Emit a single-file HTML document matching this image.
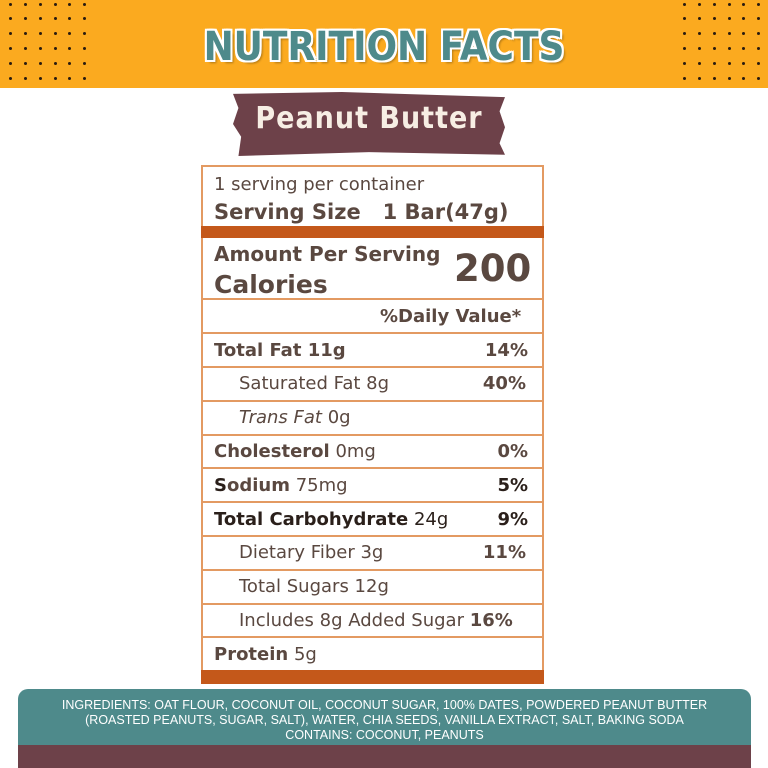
<!DOCTYPE html>
<html><head><meta charset="utf-8"><style>
*{margin:0;padding:0;box-sizing:border-box}
body{width:768px;height:768px;background:#fff;position:relative;overflow:hidden;font-family:"DejaVu Sans","Liberation Sans",sans-serif;color:#5a4840}
.hdr{position:absolute;left:0;top:0;width:768px;height:88px;background:#FBAA1F}
.dot{position:absolute;width:3px;height:3px;border-radius:50%;background:#2a1c10}
.title{position:absolute;left:0;width:768px;top:24px;text-align:center;font:bold 40px "DejaVu Sans Condensed","Liberation Sans Narrow",sans-serif;color:#4E8A8B;text-shadow:2px 0 #fff,-2px 0 #fff,0 2px #fff,0 -2px #fff,2px 2px #fff,-2px -2px #fff,2px -2px #fff,-2px 2px #fff,3px 3px 2px rgba(0,0,0,.3)}
.banner{position:absolute;left:233px;top:92px;width:272px;height:64px;background:#6D4149;clip-path:polygon(0 3%,40% 0,100% 8%,98% 30%,100% 55%,98% 80%,100% 98%,50% 94%,2% 100%,3% 70%,0 50%,2% 25%)}
.btxt{position:absolute;left:233px;top:101px;width:272px;text-align:center;font:bold 30px "DejaVu Sans Condensed",sans-serif;color:#f7eee4;letter-spacing:1px}
.box{position:absolute;left:201px;top:165px;width:343px;height:519px;border:2px solid #E39A62}
.ln{position:absolute;left:201px;width:343px;height:2px;background:#E39A62}
.bar{position:absolute;left:201px;width:343px;background:#C4581A}
.t{position:absolute;font-size:18px;white-space:nowrap;line-height:20px}
.b{font-weight:bold}
.r{position:absolute;right:240px;font-size:18px;font-weight:bold;line-height:20px}
.k{color:#2a1f1a}
.ing{position:absolute;left:18px;top:689px;width:733px;height:57px;background:#4E8A8B;border-radius:10px 10px 0 0;color:#fff;text-align:center;font:12.5px "Liberation Sans Narrow","Liberation Sans",sans-serif;line-height:15px;padding-top:9px}
.mar{position:absolute;left:18px;top:745px;width:733px;height:23px;background:#6D4149}
</style></head><body>
<div class="hdr"></div>
<div id="dots"></div>
<div class="title">NUTRITION FACTS</div>
<div class="banner"></div>
<div class="btxt">Peanut Butter</div>
<div class="box"></div>
<div class="t" style="left:214px;top:175px">1 serving per container</div>
<div class="t b" style="left:214px;top:202px;font-size:21px">Serving Size&nbsp;&nbsp;&nbsp;1 Bar(47g)</div>
<div class="bar" style="top:226px;height:12px"></div>
<div class="t b" style="left:214px;top:244px;font-size:20px">Amount Per Serving</div>
<div class="t b" style="left:214px;top:272px;font-size:25px;line-height:26px">Calories</div>
<div class="t b" style="left:454px;top:249px;font-size:37px;line-height:40px">200</div>
<div class="ln" style="top:298px"></div>
<div class="t b" style="left:380px;top:307px">%Daily Value*</div>
<div class="ln" style="top:332px"></div>
<div class="t b" style="left:214px;top:341px">Total Fat 11g</div><div class="r" style="top:341px">14%</div>
<div class="ln" style="top:366px"></div>
<div class="t" style="left:239px;top:374px">Saturated Fat 8g</div><div class="r" style="top:374px;right:242px">40%</div>
<div class="ln" style="top:400px"></div>
<div class="t" style="left:239px;top:408px"><i>Trans Fat</i> 0g</div>
<div class="ln" style="top:434px"></div>
<div class="t" style="left:214px;top:442px"><b>Cholesterol</b> 0mg</div><div class="r" style="top:442px">0%</div>
<div class="ln" style="top:467px"></div>
<div class="t" style="left:214px;top:476px"><b><span class="k">S</span>odium</b> 75mg</div><div class="r k" style="top:476px">5%</div>
<div class="ln" style="top:501px"></div>
<div class="t" style="left:214px;top:510px"><b><span class="k">Total Carbohydrate</span></b> <span class="k">24g</span></div><div class="r k" style="top:510px">9%</div>
<div class="ln" style="top:535px"></div>
<div class="t" style="left:239px;top:543px">Dietary Fiber 3g</div><div class="r" style="top:543px;right:242px">11%</div>
<div class="ln" style="top:569px"></div>
<div class="t" style="left:239px;top:577px">Total Sugars 12g</div>
<div class="ln" style="top:603px"></div>
<div class="t" style="left:239px;top:611px">Includes 8g Added Sugar <b>16%</b></div>
<div class="ln" style="top:636px"></div>
<div class="t" style="left:214px;top:645px"><b>Protein</b> 5g</div>
<div class="bar" style="top:670px;height:14px"></div>
<div class="ing">INGREDIENTS: OAT FLOUR, COCONUT OIL, COCONUT SUGAR, 100% DATES, POWDERED PEANUT BUTTER<br>(ROASTED PEANUTS, SUGAR, SALT), WATER, CHIA SEEDS, VANILLA EXTRACT, SALT, BAKING SODA<br>CONTAINS: COCONUT, PEANUTS</div>
<div class="mar"></div>
<script>
var d=document.getElementById('dots'),h='';
var ys=[3,17,32,47,62,77],lx=[9,24,39,54,68,83],rx=[683,698,713,728,742,757];
ys.forEach(function(y){lx.concat(rx).forEach(function(x){h+='<div class="dot" style="left:'+x+'px;top:'+y+'px"></div>';});});
d.innerHTML=h;
</script>
</body></html>
